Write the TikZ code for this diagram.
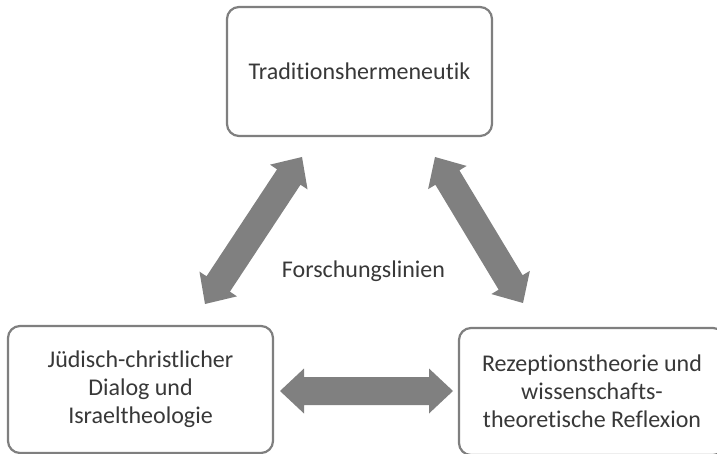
\documentclass[tikz,border=0pt]{standalone}
\usepackage{fontspec}
\setmainfont{Carlito}[Ligatures=NoCommon]
\usetikzlibrary{calc}
\definecolor{boxline}{HTML}{7F7F7F}
\definecolor{arrowgray}{HTML}{808080}
\definecolor{txt}{HTML}{383838}
\tikzset{
  box/.style={draw=boxline, line width=2.2pt, rounded corners=12pt, fill=white,
    align=center, text=txt, font=\fontsize{24}{28}\selectfont, inner sep=0pt},
  label/.style={text=txt, font=\fontsize{24}{28}\selectfont, inner sep=0pt},
  fatarrow/.style={fill=arrowgray, draw=none}
}
\newcommand\fatarrow[2]{%
  \fill[fatarrow] (#1)
   -- ($(#1)!24pt!(#2)!22.5pt!90:(#2)$)
   -- ($(#1)!24pt!(#2)!14pt!90:(#2)$)
   -- ($(#2)!24pt!(#1)!14pt!-90:(#1)$)
   -- ($(#2)!24pt!(#1)!22.5pt!-90:(#1)$)
   -- (#2)
   -- ($(#2)!24pt!(#1)!22.5pt!90:(#1)$)
   -- ($(#2)!24pt!(#1)!14pt!90:(#1)$)
   -- ($(#1)!24pt!(#2)!14pt!-90:(#2)$)
   -- ($(#1)!24pt!(#2)!22.5pt!-90:(#2)$)
   -- cycle;}
\begin{document}
\begin{tikzpicture}[x=1pt,y=-1pt]
\useasboundingbox (0,0) rectangle (717,454);
\begin{scope}
\clip (0,0) rectangle (717,454);
\node[box, minimum width=265pt, minimum height=129pt] (top) at (359.5,71.5) {Traditionshermeneutik};
\node[box, minimum width=265pt, minimum height=127pt] (left) at (140.5,389.5) {Jüdisch-christlicher\\Dialog und\\Israeltheologie};
\node[box, minimum width=266pt, minimum height=127pt] (right) at (592,391.5) {Rezeptionstheorie und\\wissenschafts-\\theoretische Reflexion};
\node[label] (center) at (363.5,271) {Forschungslinien};
\coordinate (l1) at (205,304);
\coordinate (l2) at (302,157);
\coordinate (r1) at (435,157);
\coordinate (r2) at (523,303);
\coordinate (h1) at (280,391);
\coordinate (h2) at (453,391);
\fatarrow{l1}{l2}
\fatarrow{r1}{r2}
\fatarrow{h1}{h2}
\end{scope}
\end{tikzpicture}
\end{document}
